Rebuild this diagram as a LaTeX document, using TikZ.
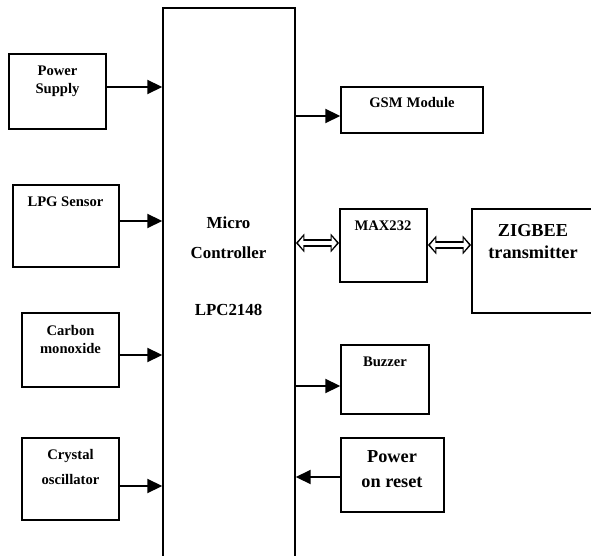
\documentclass[tikz,border=0pt]{standalone}
\usepackage{fontspec}
\setmainfont{Liberation Serif}
\usetikzlibrary{arrows.meta,fit}

\begin{document}
\begin{tikzpicture}[x=0.025cm,y=-0.025cm,>={Triangle[length=10.5pt,width=10pt]},
box/.style={draw,line width=1.2pt,inner sep=0pt},
lbl/.style={font=\bfseries\fontsize{10.4}{12.8}\selectfont,align=center,inner sep=0pt},
mid/.style={font=\bfseries\fontsize{12}{21.3}\selectfont,align=center,inner sep=0pt},
big/.style={font=\bfseries\fontsize{13}{16.3}\selectfont,align=center,inner sep=0pt},
arr/.style={->,line width=1.2pt},
dblout/.style={{Triangle[length=6pt,width=13pt]}-{Triangle[length=6pt,width=13pt]},line width=6.2pt},
dblin/.style={{Triangle[length=3.8pt,width=9pt]}-{Triangle[length=3.8pt,width=9pt]},white,line width=3.4pt,shorten <=1.6pt,shorten >=1.6pt}]
\useasboundingbox (0,0) rectangle (591,556);
% controller, open at the bottom
\node[box,fit={(163,8) (295,600)}] (mcu) {};
\node[mid] (mcut) at (228.5,266.5) {Micro\\Controller\\[19pt]LPC2148};
% inputs
\node[box,fit={(9,54) (106,129)}] (ps) {};
\node[box,fit={(13,185) (119,267)}] (lpg) {};
\node[box,fit={(22,313) (119,387)}] (co) {};
\node[box,fit={(22,438) (119,520)}] (xtal) {};
\node[lbl] (pst) at (57.5,81) {Power\\Supply};
\node[lbl] (lpgt) at (65.5,202) {LPG Sensor};
\node[lbl] (cot) at (70.5,339.5) {Carbon\\[0.7pt]monoxide};
\node[lbl] (xtalt) at (70.5,467) {Crystal\\[5.6pt]oscillator};
% outputs
\node[box,fit={(341,87) (483,133)}] (gsm) {};
\node[box,fit={(340,209) (427,282)}] (max) {};
\node[box,fit={(472,209) (620,313)}] (zig) {};
\node[box,fit={(341,345) (429,414)}] (buz) {};
\node[box,fit={(341,438) (444,512)}] (por) {};
\node[lbl] (gsmt) at (412,103) {GSM\;Module};
\node[lbl] (maxt) at (383,226) {MAX232};
\node[big] (zigt) at (533,241.5) {ZIGBEE\\transmitter};
\node[lbl] (buzt) at (385,362) {Buzzer};
\node[big] (port) at (392,469.5) {Power\\[1.4pt]on reset};
% connectors
\foreach \b/\dy in {ps/-4.5,lpg/-5,co/5,xtal/7}{
\path (\b.east) ++(0,\dy) coordinate (\b-o);
\draw[arr] (\b-o) -- (\b-o -| mcu.west);
}
\foreach \b/\dy in {gsm/6,buz/6.5}{
\path (\b.west) ++(0,\dy) coordinate (\b-i);
\draw[arr] (\b-i -| mcu.east) -- (\b-i);
}
\path (por.west) ++(0,2) coordinate (por-o);
\draw[arr] (por-o) -- (por-o -| mcu.east);
% hollow double arrows
\path (max.west) ++(0,-2.5) coordinate (max-i);
\path (max.east) ++(0,-0.5) coordinate (max-o);
\coordinate (mcu-m) at (max-i -| mcu.east);
\coordinate (zig-i) at (max-o -| zig.west);
\foreach \s/\t in {mcu-m/max-i,max-o/zig-i}{
\draw[dblout] (\s) -- (\t);
\draw[dblin] (\s) -- (\t);
}
\end{tikzpicture}
\end{document}
